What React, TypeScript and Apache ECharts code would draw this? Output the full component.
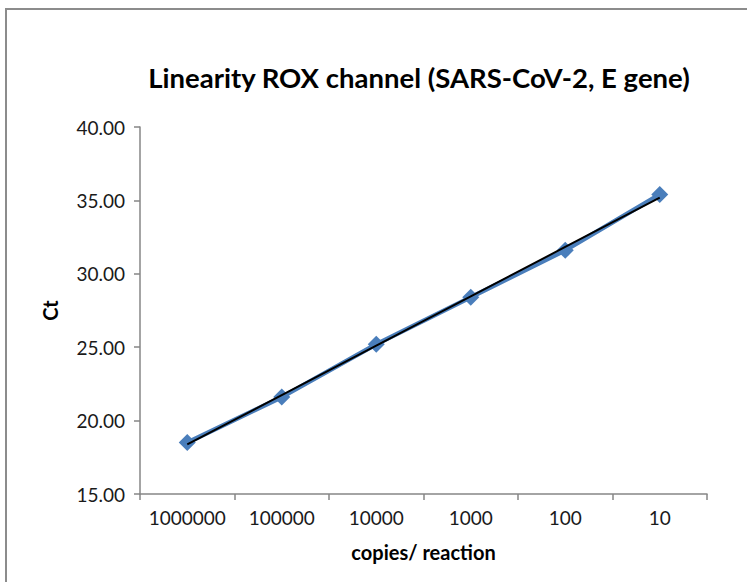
import React, { useEffect, useRef } from "react";
import * as echarts from "echarts";

const categories = ["1000000", "100000", "10000", "1000", "100", "10"];
const ctValues = [18.5, 21.6, 25.2, 28.4, 31.6, 35.4];
const titleText = "Linearity ROX channel (SARS-CoV-2, E gene)";
const xName = "copies/ reaction";
const yName = "Ct";

function linearTrend(vals: number[]): number[] {
  const n = vals.length;
  const xs = vals.map((_, i) => i + 1);
  const mx = xs.reduce((a, b) => a + b, 0) / n;
  const my = vals.reduce((a, b) => a + b, 0) / n;
  let sxy = 0, sxx = 0;
  for (let i = 0; i < n; i++) {
    sxy += (xs[i] - mx) * (vals[i] - my);
    sxx += (xs[i] - mx) * (xs[i] - mx);
  }
  const slope = sxy / sxx;
  const icpt = my - slope * mx;
  return xs.map((x) => +(icpt + slope * x).toFixed(4));
}

export default function App() {
  const ref = useRef<HTMLDivElement>(null);
  useEffect(() => {
    if (!ref.current) return;
    const chart = echarts.init(ref.current, null, { renderer: "svg" });
    const axisColor = "#868686";
    const font = "Lato, 'Open Sans', sans-serif";
    chart.setOption({
      animation: false,
      backgroundColor: "#ffffff",
      graphic: [
        {
          type: "rect",
          shape: { x: 6, y: 9, width: 800, height: 700 },
          style: { fill: "none", stroke: "#8c8c8c", lineWidth: 2 },
          silent: true,
        },
      ],
      title: {
        text: titleText,
        left: 414,
        textAlign: "center",
        top: 58,
        textStyle: { fontFamily: font, fontWeight: "bold", fontSize: 27.5, color: "#000" },
      },
      grid: { left: 140, right: 40, top: 127, bottom: 88 },
      xAxis: {
        type: "category",
        data: categories,
        boundaryGap: true,
        name: xName,
        nameLocation: "middle",
        nameGap: 48,
        nameTextStyle: { fontFamily: font, fontWeight: "bold", fontSize: 20, color: "#000" },
        axisLine: { lineStyle: { color: axisColor, width: 1.5 } },
        axisTick: { show: true, interval: 0, length: 6, lineStyle: { color: axisColor, width: 1.5 } },
        axisLabel: { interval: 0, fontFamily: font, fontSize: 19, color: "#1a1a1a", margin: 14 },
        splitLine: { show: false },
      },
      yAxis: {
        type: "value",
        min: 15,
        max: 40,
        interval: 5,
        name: yName,
        nameLocation: "middle",
        nameGap: 80,
        nameTextStyle: { fontFamily: font, fontWeight: "bold", fontSize: 20, color: "#000" },
        axisLine: { show: true, lineStyle: { color: axisColor, width: 1.5 } },
        axisTick: { show: true, length: 6, lineStyle: { color: axisColor, width: 1.5 } },
        axisLabel: {
          fontFamily: font,
          fontSize: 19,
          color: "#1a1a1a",
          margin: 15,
          formatter: (v: number) => v.toFixed(2),
        },
        splitLine: { show: false },
      },
      series: [
        {
          type: "line",
          data: ctValues,
          symbol: "diamond",
          symbolSize: 17,
          lineStyle: { color: "#4a7ebb", width: 4.5 },
          itemStyle: { color: "#4a7ebb" },
          z: 2,
        },
        {
          type: "line",
          data: linearTrend(ctValues),
          symbol: "none",
          lineStyle: { color: "#000000", width: 2 },
          z: 3,
        },
      ],
    });
    return () => chart.dispose();
  }, []);
  return (
    <div
      ref={ref}
      style={{ position: "fixed", left: 0, top: 0, width: 747, height: 582, background: "#fff" }}
    />
  );
}
